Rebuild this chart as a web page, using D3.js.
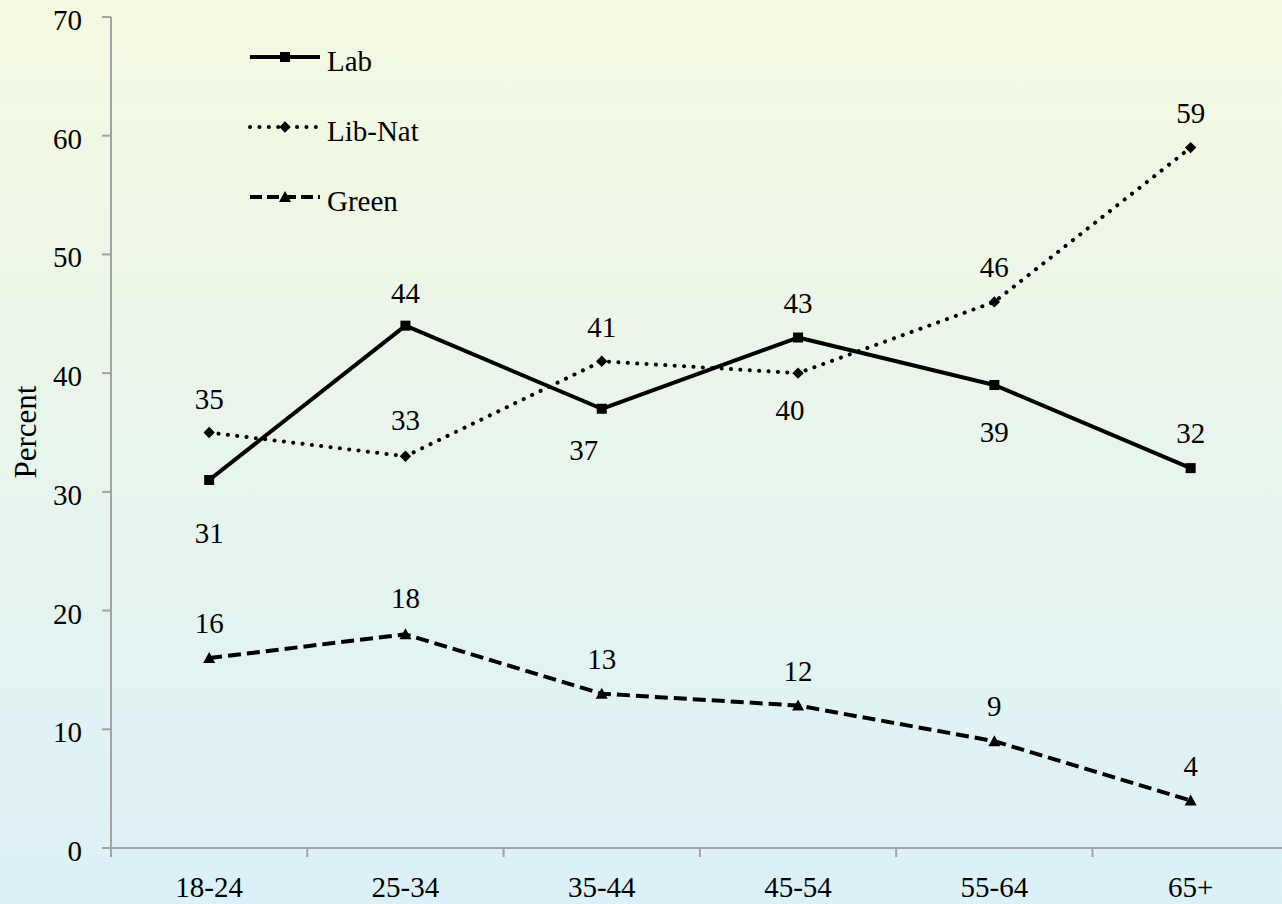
<!DOCTYPE html>
<html lang="en">
<head>
<meta charset="UTF-8">
<title>Vote by age</title>
<script src="https://d3js.org/d3.v7.min.js"></script>
<style>
    html, body { margin: 0; padding: 0; overflow: hidden; }
    svg { display: block; }
</style>
</head>
<body>
<svg id="chart" width="1282" height="904"></svg>
<script>
    const ageGroups = ["18-24", "25-34", "35-44", "45-54", "55-64", "65+"];
    const labValues = [31, 44, 37, 43, 39, 32];
    const libNatValues = [35, 33, 41, 40, 46, 59];
    const greenValues = [16, 18, 13, 12, 9, 4];
    const yTicks = [0, 10, 20, 30, 40, 50, 60, 70];

    // where each data label sits relative to its point (text centre, px)
    const labLabelDy = [53, -33, 41, -35, 47, -35];
    const labLabelDx = [0, 0, -18, 0, 0, 0];
    const libNatLabelDy = [-34, -36, -34, 37, -35, -35];
    const libNatLabelDx = [0, 0, 0, -8, 0, 0];
    const greenLabelDy = [-35, -36, -35, -35, -35, -35];

    const series = [
        {name: "Lab", values: labValues, dash: null, cap: "butt", marker: "square", dy: labLabelDy, dx: labLabelDx},
        {name: "Lib-Nat", values: libNatValues, dash: "0.1 9.3", cap: "round", marker: "diamond", dy: libNatLabelDy, dx: libNatLabelDx},
        {name: "Green", values: greenValues, dash: "13 6", cap: "butt", marker: "triangle", dy: greenLabelDy, dx: null}
    ];

    const fontFamily = "Times New Roman, Times, Tinos, Liberation Serif, DejaVu Serif, Noto Serif, FreeSerif, serif";
    const fontSize = 29;

    const svg = d3.select("#chart").style("font-family", fontFamily);
    const width = 1282, height = 904;
    const mLeft = 111, mTop = 17, mBottom = 848;
    const bandW = 196.3;

    const defs = svg.append("defs");
    const grad = defs.append("linearGradient")
        .attr("id", "bg").attr("x1", 0).attr("y1", 0).attr("x2", 0).attr("y2", 1);
    grad.append("stop").attr("offset", "0%").attr("stop-color", "#f4f9e0");
    grad.append("stop").attr("offset", "50%").attr("stop-color", "#e8f5ec");
    grad.append("stop").attr("offset", "100%").attr("stop-color", "#dbf0f8");

    svg.append("rect").attr("width", width).attr("height", height).attr("fill", "url(#bg)");

    const x = d3.scaleBand()
        .domain(ageGroups)
        .range([mLeft, mLeft + bandW * ageGroups.length]);
    const y = d3.scaleLinear().domain([0, 70]).range([mBottom, mTop]);
    const cx = d => x(d) + x.bandwidth() / 2;

    const axisColor = "#a3a3a3";

    function label(sel) {
        return sel.style("font-family", fontFamily).attr("font-size", fontSize).attr("fill", "#000");
    }

    // y axis
    svg.append("line")
        .attr("x1", mLeft).attr("x2", mLeft).attr("y1", mTop).attr("y2", mBottom)
        .attr("stroke", axisColor).attr("stroke-width", 2);
    svg.selectAll(".ytick").data(yTicks).enter().append("line")
        .attr("x1", mLeft - 9).attr("x2", mLeft)
        .attr("y1", d => y(d)).attr("y2", d => y(d))
        .attr("stroke", axisColor).attr("stroke-width", 2);
    svg.selectAll(".ylab").data(yTicks).enter().append("text")
        .attr("x", 82).attr("y", d => y(d) + 3)
        .attr("text-anchor", "end").attr("dominant-baseline", "central")
        .call(label)
        .text(d => d);

    svg.append("text")
        .attr("transform", "translate(25,432) rotate(-90)")
        .attr("text-anchor", "middle").attr("dominant-baseline", "central")
        .call(label)
        .attr("font-size", 31)
        .text("Percent");

    // x axis
    svg.append("line")
        .attr("x1", mLeft).attr("x2", width).attr("y1", mBottom).attr("y2", mBottom)
        .attr("stroke", axisColor).attr("stroke-width", 2);
    svg.selectAll(".xtick").data(ageGroups).enter().append("line")
        .attr("x1", d => x(d)).attr("x2", d => x(d))
        .attr("y1", mBottom).attr("y2", mBottom + 9)
        .attr("stroke", axisColor).attr("stroke-width", 2);
    svg.selectAll(".xlab").data(ageGroups).enter().append("text")
        .attr("x", d => cx(d)).attr("y", 887)
        .attr("text-anchor", "middle").attr("dominant-baseline", "central")
        .call(label)
        .text(d => d);

    function drawMarker(g, type, px, py) {
        if (type === "square") {
            g.append("rect").attr("x", px - 5).attr("y", py - 5).attr("width", 10).attr("height", 10).attr("fill", "#000");
        } else if (type === "diamond") {
            g.append("rect").attr("x", -4).attr("y", -4).attr("width", 8).attr("height", 8)
                .attr("transform", `translate(${px},${py}) rotate(45)`).attr("fill", "#000");
        } else {
            g.append("path").attr("d", `M${px},${py - 6}L${px + 6},${py + 5}L${px - 6},${py + 5}Z`).attr("fill", "#000");
        }
    }

    const line = d3.line().x((d, i) => cx(ageGroups[i])).y(d => y(d));

    series.forEach(s => {
        const g = svg.append("g");
        g.append("path")
            .datum(s.values)
            .attr("d", line)
            .attr("fill", "none").attr("stroke", "#000").attr("stroke-width", 4)
            .attr("stroke-dasharray", s.dash).attr("stroke-linecap", s.cap)
            .attr("stroke-linejoin", "round");
        s.values.forEach((v, i) => drawMarker(g, s.marker, cx(ageGroups[i]), y(v)));
        g.selectAll("text").data(s.values).enter().append("text")
            .attr("x", (d, i) => cx(ageGroups[i]) + (s.dx ? s.dx[i] : 0))
            .attr("y", (d, i) => y(d) + s.dy[i])
            .attr("text-anchor", "middle").attr("dominant-baseline", "central")
            .call(label)
            .text(d => d);
    });

    // legend
    const legend = svg.append("g");
    series.forEach((s, i) => {
        const ly = 57 + i * 70;
        legend.append("line")
            .attr("x1", 250).attr("x2", 320).attr("y1", ly).attr("y2", ly)
            .attr("stroke", "#000").attr("stroke-width", 4)
            .attr("stroke-dasharray", s.dash === "13 6" ? "12 5" : s.dash)
            .attr("stroke-linecap", s.cap);
        drawMarker(legend, s.marker, 285, ly);
        legend.append("text")
            .attr("x", 327).attr("y", ly + 4)
            .attr("dominant-baseline", "central")
            .call(label)
            .text(s.name);
    });
</script>
</body>
</html>
